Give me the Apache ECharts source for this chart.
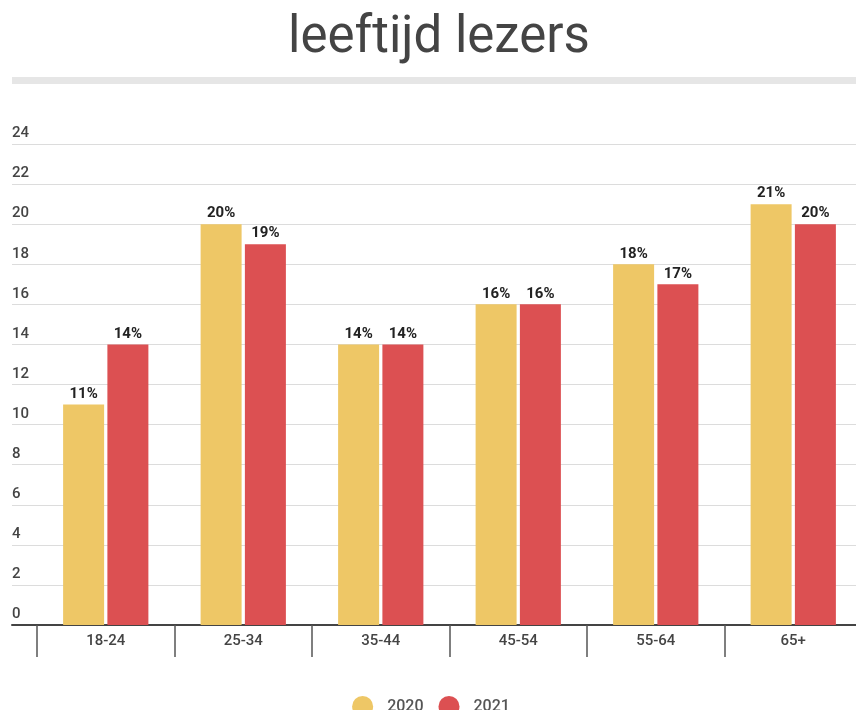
<!DOCTYPE html>
<html>
<head>
<meta charset="utf-8">
<script src="https://cdn.jsdelivr.net/npm/echarts@6/dist/echarts.min.js"></script>
<style>
  html, body { margin: 0; padding: 0; background: #fff; overflow: hidden; }
  #chart { width: 862px; height: 710px; }
</style>
</head>
<body>
<div id="chart"></div>
<script>
const categories = ['18-24', '25-34', '35-44', '45-54', '55-64', '65+']
const values2020 = [11, 20, 14, 16, 18, 21]
const values2021 = [14, 19, 14, 16, 17, 20]
const seriesNames = ['2020', '2021']
const colors = ['#EEC766', '#DC5052']

const font = 'Roboto'
const chart = echarts.init(document.getElementById('chart'))

const barLabel = {
  show: true,
  position: 'top',
  distance: 3,
  formatter: '{c}%',
  fontFamily: font,
  fontSize: 15,
  fontWeight: 'bold',
  color: '#222'
}

// plot area runs a few px past the right edge of the window, like the source
chart.setOption({
  animation: false,
  title: {
    text: 'leeftijd lezers',
    left: 283,
    top: 9,
    textStyle: { fontFamily: font, fontSize: 51, fontWeight: 'normal', color: '#444' }
  },
  graphic: [
    { type: 'rect', shape: { x: 12, y: 77, width: 844, height: 7 }, style: { fill: '#e6e6e6' } }
  ],
  legend: {
    data: seriesNames,
    left: 'center',
    top: 691,
    icon: 'circle',
    itemWidth: 21,
    itemHeight: 21,
    itemGap: 15,
    textStyle: { fontFamily: font, fontSize: 16, fontWeight: 500, color: '#555', padding: [0, 0, 0, 9] }
  },
  grid: [
    { left: 12, right: 6, top: 144, bottom: 85 },
    { left: 37, right: 0, top: 144, bottom: 85 }
  ],
  xAxis: [
    {
      gridIndex: 0, type: 'value', min: 0, max: 1,
      axisLine: { show: true, onZero: false, lineStyle: { color: '#444', width: 2 } },
      axisTick: { show: false }, axisLabel: { show: false }, splitLine: { show: false }
    },
    {
      gridIndex: 1, type: 'category', data: categories,
      axisLine: { show: false },
      axisTick: { show: true, length: 32, lineStyle: { color: '#555', width: 1.5 } },
      axisLabel: { margin: 9, fontFamily: font, fontSize: 15, fontWeight: 500, color: '#444' }
    }
  ],
  yAxis: [
    {
      gridIndex: 0, type: 'value', min: 0, max: 24, interval: 2,
      axisLine: { show: false }, axisTick: { show: false },
      axisLabel: {
        inside: true, margin: 0, verticalAlign: 'bottom', padding: [0, 0, 3, 0],
        fontFamily: font, fontSize: 15, fontWeight: 500, color: '#444'
      },
      splitLine: { lineStyle: { color: '#dcdcdc', width: 1 } }
    },
    { gridIndex: 1, type: 'value', min: 0, max: 24, show: false }
  ],
  series: [
    {
      name: seriesNames[0], type: 'bar', xAxisIndex: 1, yAxisIndex: 1,
      data: values2020, barWidth: 41, barGap: '8%',
      itemStyle: { color: colors[0] }, label: barLabel
    },
    {
      name: seriesNames[1], type: 'bar', xAxisIndex: 1, yAxisIndex: 1,
      data: values2021, barWidth: 41, barGap: '8%',
      itemStyle: { color: colors[1] }, label: barLabel
    }
  ]
})
</script>
</body>
</html>
